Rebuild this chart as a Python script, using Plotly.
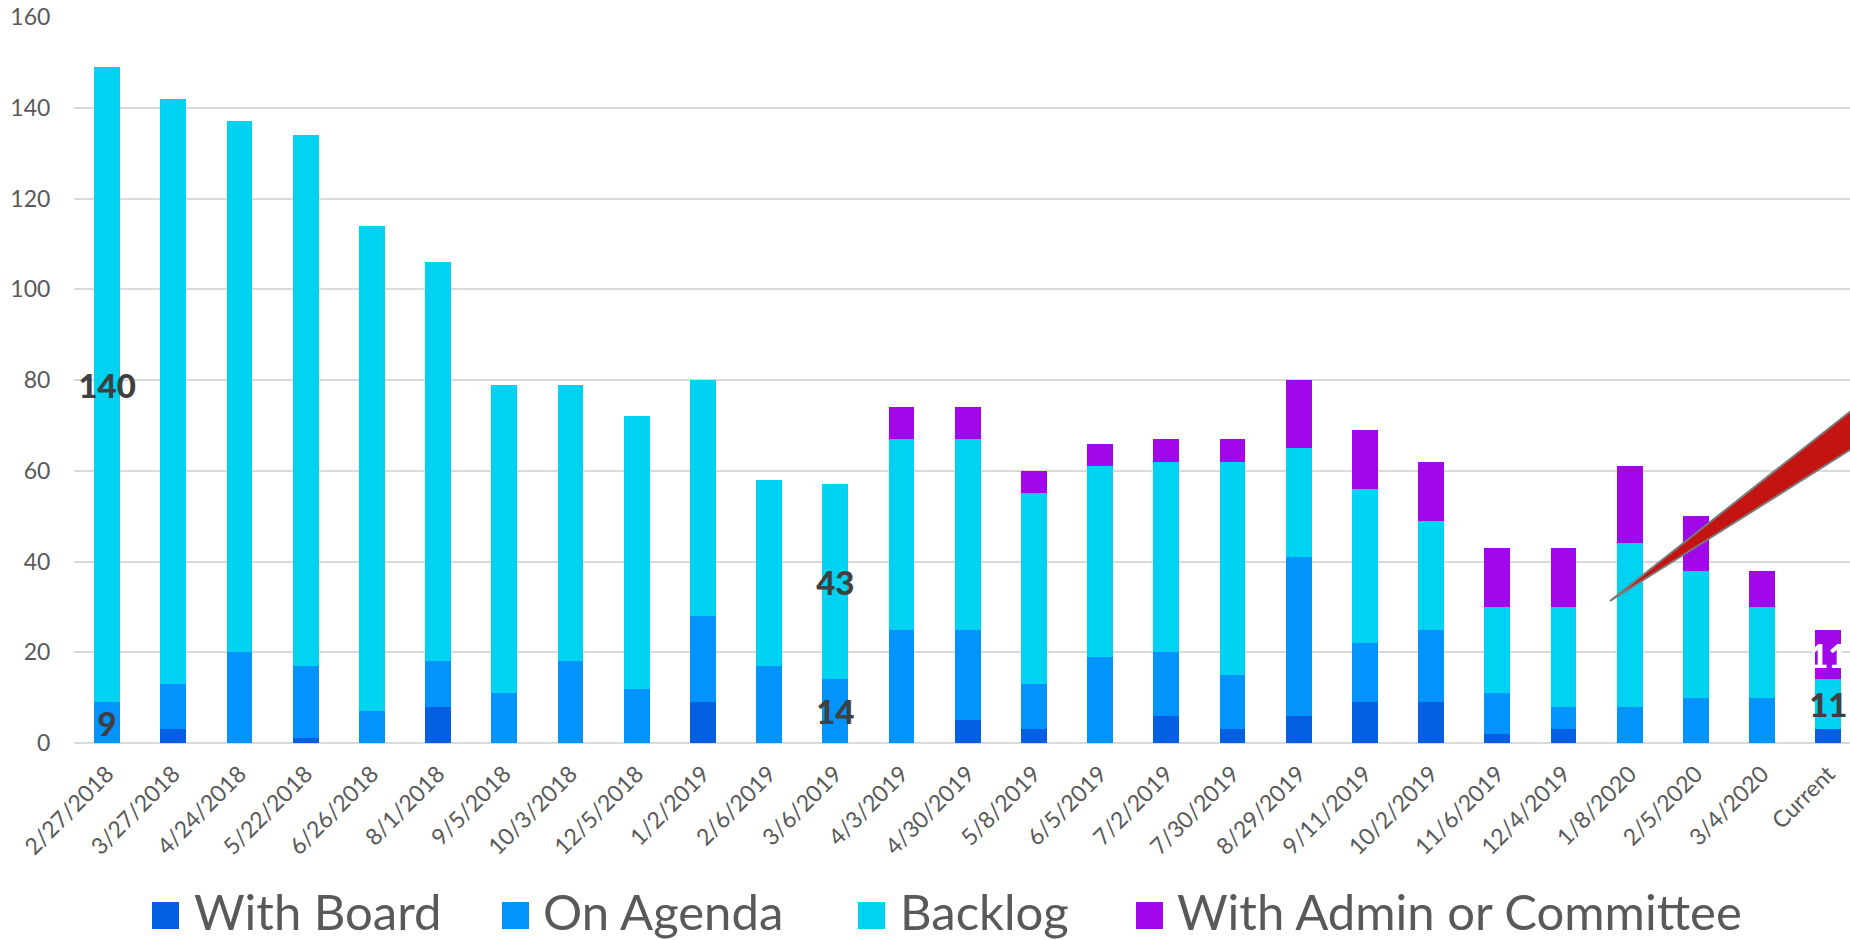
import plotly.graph_objects as go

# ---------------- data ----------------
categories = ["2/27/2018", "3/27/2018", "4/24/2018", "5/22/2018", "6/26/2018", "8/1/2018",
              "9/5/2018", "10/3/2018", "12/5/2018", "1/2/2019", "2/6/2019", "3/6/2019",
              "4/3/2019", "4/30/2019", "5/8/2019", "6/5/2019", "7/2/2019", "7/30/2019",
              "8/29/2019", "9/11/2019", "10/2/2019", "11/6/2019", "12/4/2019", "1/8/2020",
              "2/5/2020", "3/4/2020", "Current"]
with_board = [0, 3, 0, 1, 0, 8, 0, 0, 0, 9, 0, 0, 0, 5, 3, 0, 6, 3, 6, 9, 9, 2, 3, 0, 0, 0, 3]
on_agenda = [9, 10, 20, 16, 7, 10, 11, 18, 12, 19, 17, 14, 25, 20, 10, 19, 14, 12, 35, 13, 16, 9, 5, 8, 10, 10, 0]
backlog = [140, 129, 117, 117, 107, 88, 68, 61, 60, 52, 41, 43, 42, 42, 42, 42, 42, 47, 24, 34, 24, 19, 22, 36, 28, 20, 11]
with_admin = [0, 0, 0, 0, 0, 0, 0, 0, 0, 0, 0, 0, 7, 7, 5, 5, 5, 5, 15, 13, 13, 13, 13, 17, 12, 8, 11]

series_names = ["With Board", "On Agenda", "Backlog", "With Admin or Committee"]
series_colors = ["#055FE3", "#0393FD", "#00D2F2", "#A107E8"]
y_ticks = [0, 20, 40, 60, 80, 100, 120, 140, 160]

# which segments carry a value label
labels_on = {
    "On Agenda": ["2/27/2018", "3/6/2019"],
    "Backlog": ["2/27/2018", "3/6/2019", "Current"],
    "With Admin or Committee": ["Current"],
}

# ---------------- layout geometry (pixels) ----------------
W, H = 1850, 940
ML, MR, MT, MB = 74, 0, 17, 197
PW, PH = W - ML - MR, H - MT - MB
FONT = "Lato, 'Open Sans', sans-serif"


def px_x(px):
    return (px - ML) / PW


def px_y(py):
    return (H - MB - py) / PH


fig = go.Figure()
values = [with_board, on_agenda, backlog, with_admin]
text_colors = ["#404040", "#404040", "#404040", "#FFFFFF"]
for name, vals, col, tcol in zip(series_names, values, series_colors, text_colors):
    wanted = labels_on.get(name, [])
    txt = [str(v) if c in wanted else "" for c, v in zip(categories, vals)]
    fig.add_trace(go.Bar(
        x=categories, y=vals, name=name,
        marker=dict(color=col, line=dict(width=0)),
        text=txt, textposition="inside", insidetextanchor="middle",
        textangle=0, constraintext="none", cliponaxis=False,
        textfont=dict(family=FONT, size=33, color=tcol, weight=900),
        showlegend=False, hoverinfo="x+y+name",
    ))

# custom legend (squares + labels)
legend_sq_left = [152, 502, 858, 1136]
legend_txt_left = [192, 541, 898, 1175]
sq = 27
sq_top = 902
shapes = []
annotations = []
for name, col, sl, tl in zip(series_names, series_colors, legend_sq_left, legend_txt_left):
    shapes.append(dict(type="rect", xref="paper", yref="paper",
                       x0=px_x(sl), x1=px_x(sl + sq), y0=px_y(sq_top + sq), y1=px_y(sq_top),
                       fillcolor=col, line=dict(width=0), layer="above"))
    annotations.append(dict(xref="paper", yref="paper", x=px_x(tl), y=px_y(911),
                            xanchor="left", yanchor="middle", showarrow=False,
                            text=name, font=dict(family=FONT, size=49, color="#595959")))

# red pointer wedge
tip = (1610, 601)
top_end = (1880, 388)
bot_end = (1880, 431)
path = "M {} {} L {} {} L {} {} Z".format(
    px_x(tip[0]), px_y(tip[1]), px_x(top_end[0]), px_y(top_end[1]),
    px_x(bot_end[0]), px_y(bot_end[1]))
shapes.append(dict(type="path", xref="paper", yref="paper", path=path,
                   fillcolor="#C41411", line=dict(color="#7A7A7A", width=2), layer="above"))

fig.update_layout(
    width=W, height=H,
    margin=dict(l=ML, r=MR, t=MT, b=MB, pad=0),
    barmode="stack", bargap=0.61,
    plot_bgcolor="white", paper_bgcolor="white",
    font=dict(family=FONT, color="#595959"),
    shapes=shapes, annotations=annotations,
    showlegend=False,
)
fig.update_xaxes(
    type="category", categoryorder="array", categoryarray=categories,
    range=[-0.5, -0.5 + PW / 66.2],
    tickangle=-45, tickfont=dict(family=FONT, size=23, color="#595959"),
    showgrid=False, showline=False, ticks="", ticklabelstandoff=12, automargin=False,
)
fig.update_yaxes(
    range=[0, 160], tickvals=y_ticks, ticktext=[str(t) for t in y_ticks],
    tickfont=dict(family=FONT, size=23, color="#595959"),
    showgrid=True, gridcolor="#D9D9D9", gridwidth=2,
    zeroline=True, zerolinecolor="#D9D9D9", zerolinewidth=2,
    showline=False, ticks="outside", ticklen=18, tickcolor="rgba(0,0,0,0)", automargin=False,
)

fig.write_html("out.html", config={"displayModeBar": False},
               post_script="document.body.style.margin='0';document.body.style.overflow='hidden';")
